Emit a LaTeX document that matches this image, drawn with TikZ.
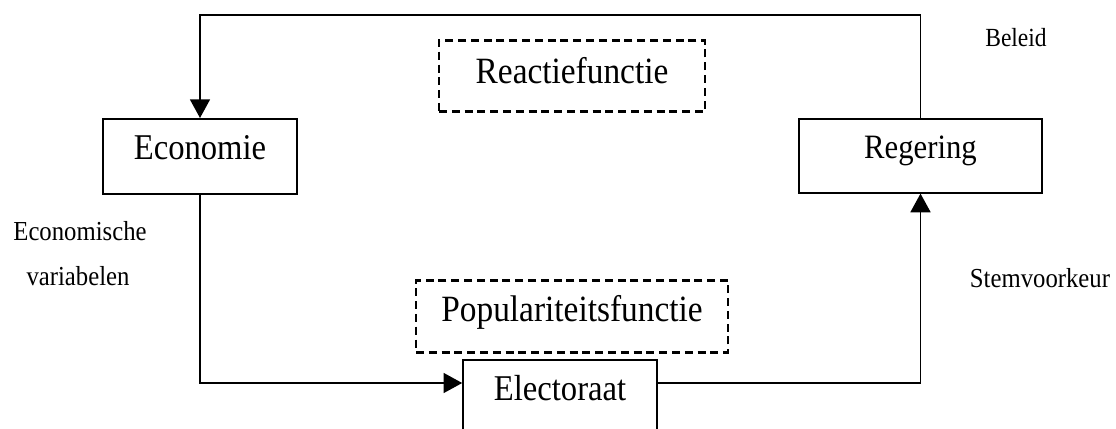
\documentclass[tikz,border=0pt]{standalone}
\usepackage{fontspec}
\setmainfont{Liberation Serif}
\newfontfamily\condserif[FakeStretch=0.9]{Liberation Serif}
\usetikzlibrary{arrows.meta}
\begin{document}
\begin{tikzpicture}[x=0.75pt,y=-0.75pt,
  box/.style={draw, line width=1.2pt, inner sep=0pt, font=\condserif\fontsize{27.2pt}{30pt}\selectfont},
  dbox/.style={draw, line width=2pt, dash pattern=on 6pt off 3.6pt, inner sep=0pt, font=\condserif\fontsize{27.8pt}{30pt}\selectfont},
  lbl/.style={inner sep=0pt, anchor=base, font=\condserif\fontsize{20.6pt}{23pt}\selectfont},
  conn/.style={line width=1.2pt},
  arr/.style={conn, -{Triangle[length=14pt,width=15pt]}}]
\useasboundingbox (0,0) rectangle (1116,428);
\clip (0,0) rectangle (1116,428);
% boxes (anchored at their top edge)
\node[box, minimum width=145.5pt, text height=30.75pt, text depth=25.5pt, anchor=north] (econ) at (200,118) {Economie};
\node[box, minimum width=182.25pt, text height=30pt, text depth=25.5pt, anchor=north, font=\condserif\fontsize{25.6pt}{28pt}\selectfont] (reg) at (920.5,118) {Regering};
\node[dbox, minimum width=199.5pt, text height=32.25pt, text depth=21pt, anchor=north] (reac) at (572,39) {Reactiefunctie};
\node[dbox, minimum width=234pt, text height=30.75pt, text depth=23.25pt, anchor=north] (pop) at (572,279) {Populariteitsfunctie};
\node[box, minimum width=145.5pt, text height=30.75pt, text depth=45pt, anchor=north] (el) at (560,359) {Electoraat};
% labels
\node[lbl] (l1) at (80,240) {Economische};
\node[lbl] (l2) at (78,285) {variabelen};
\node[lbl, font=\condserif\fontsize{19.6pt}{22pt}\selectfont] (l3) at (1016,47) {Beleid};
\node[lbl] (l4) at (1040,287) {Stemvoorkeur};
% connectors
\coordinate (top) at (0,15);
\coordinate (lvl) at (0,383);
\draw[arr] (reg.north) -- (reg.north |- top) -| (econ.north);
\draw[arr] (econ.south) -- (econ.south |- lvl) -- (el.north west |- lvl);
\draw[arr] (el.north east |- lvl) -| (reg.south);
\end{tikzpicture}
\end{document}
